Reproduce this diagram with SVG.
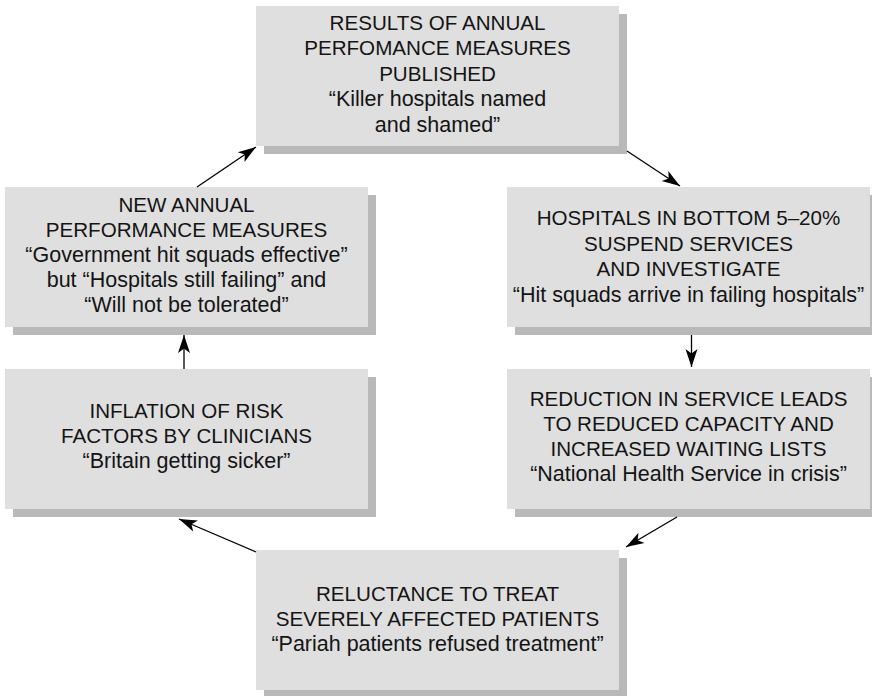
<svg xmlns="http://www.w3.org/2000/svg" width="872" height="696" viewBox="0 0 872 696">
<style>
.shadow{fill:#b9b9b9}
.box{fill:#dfdfdf}
text{font-family:"Liberation Sans",Arial,Helvetica,sans-serif;font-size:21.5px;fill:#141414;text-anchor:middle}
text.c{font-size:20.6px}
.conn{stroke:#000;stroke-width:1.3;fill:none;marker-end:url(#ah)}
</style>
<defs>
<marker id="ah" viewBox="-19 -7 20 14" markerWidth="20" markerHeight="14" refX="0" refY="0" orient="auto" markerUnits="userSpaceOnUse">
<path d="M0,0 L-18,-6 L-13.5,0 L-18,6 Z" fill="#000"/>
</marker>
</defs>
<rect width="872" height="696" fill="#fff"/>

<g id="node-results">
<rect class="shadow" x="264" y="14" width="363" height="140"/>
<rect class="box" x="256" y="6" width="363" height="140"/>
<text class="c" x="437.5" y="29.5">RESULTS OF ANNUAL</text>
<text class="c" x="437.5" y="55">PERFOMANCE MEASURES</text>
<text class="c" x="437.5" y="80.5">PUBLISHED</text>
<text x="437.5" y="106">“Killer hospitals named</text>
<text x="437.5" y="131.5">and shamed”</text>
</g>

<g id="node-new-measures">
<rect class="shadow" x="13" y="195" width="363" height="140"/>
<rect class="box" x="5" y="187" width="363" height="140"/>
<text class="c" x="186.5" y="212">NEW ANNUAL</text>
<text class="c" x="186.5" y="237">PERFORMANCE MEASURES</text>
<text x="186.5" y="262">“Government hit squads effective”</text>
<text x="186.5" y="287">but “Hospitals still failing” and</text>
<text x="186.5" y="312">“Will not be tolerated”</text>
</g>

<g id="node-hospitals-bottom">
<rect class="shadow" x="515" y="195" width="363" height="140"/>
<rect class="box" x="507" y="187" width="363" height="140"/>
<text class="c" x="688.5" y="225">HOSPITALS IN BOTTOM 5–20%</text>
<text class="c" x="688.5" y="250.5">SUSPEND SERVICES</text>
<text class="c" x="688.5" y="276">AND INVESTIGATE</text>
<text x="688.5" y="301.5">“Hit squads arrive in failing hospitals”</text>
</g>

<g id="node-inflation">
<rect class="shadow" x="13" y="377" width="363" height="140"/>
<rect class="box" x="5" y="369" width="363" height="140"/>
<text class="c" x="186.5" y="418">INFLATION OF RISK</text>
<text class="c" x="186.5" y="443">FACTORS BY CLINICIANS</text>
<text x="186.5" y="468">“Britain getting sicker”</text>
</g>

<g id="node-reduction">
<rect class="shadow" x="515" y="377" width="363" height="140"/>
<rect class="box" x="507" y="369" width="363" height="140"/>
<text class="c" x="688.5" y="406">REDUCTION IN SERVICE LEADS</text>
<text class="c" x="688.5" y="431">TO REDUCED CAPACITY AND</text>
<text class="c" x="688.5" y="456">INCREASED WAITING LISTS</text>
<text x="688.5" y="481">“National Health Service in crisis”</text>
</g>

<g id="node-reluctance">
<rect class="shadow" x="264" y="558" width="363" height="140"/>
<rect class="box" x="256" y="550" width="363" height="140"/>
<text class="c" x="437.5" y="601">RELUCTANCE TO TREAT</text>
<text class="c" x="437.5" y="626">SEVERELY AFFECTED PATIENTS</text>
<text x="437.5" y="651">“Pariah patients refused treatment”</text>
</g>

<g id="connectors">
<line class="conn" x1="197" y1="187" x2="256" y2="147"/>
<line class="conn" x1="627" y1="151" x2="680" y2="186"/>
<line class="conn" x1="691.5" y1="335" x2="691.5" y2="367"/>
<line class="conn" x1="677" y1="517" x2="626" y2="547"/>
<line class="conn" x1="256" y1="552" x2="179" y2="519"/>
<line class="conn" x1="184" y1="369" x2="184" y2="335"/>
</g>
</svg>
